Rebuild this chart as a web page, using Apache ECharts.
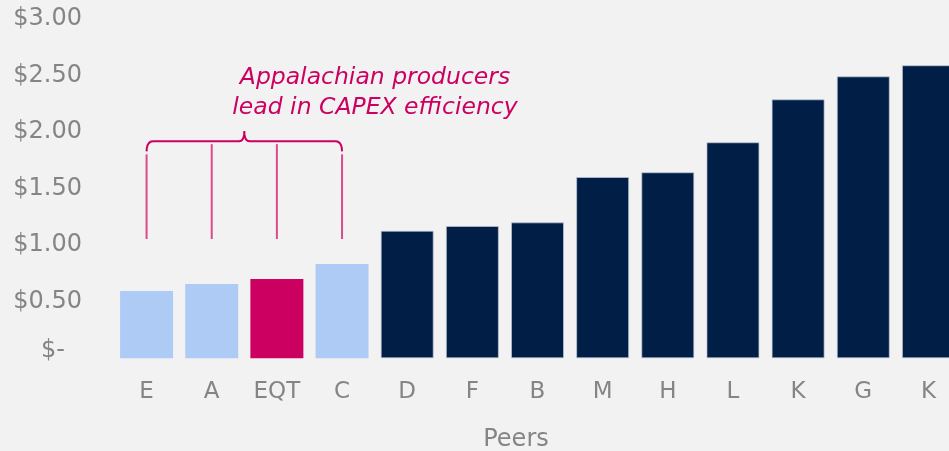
<!DOCTYPE html>
<html>
<head>
<meta charset="utf-8">
<script src="https://cdn.jsdelivr.net/npm/echarts@6/dist/echarts.min.js"></script>
<style>
  html, body { margin: 0; padding: 0; background: #f2f2f2; }
  #chart { width: 949px; height: 451px; }
</style>
</head>
<body>
<div id="chart"></div>
<script>
// capex per unit, by peer
const peers = ['E', 'A', 'EQT', 'C', 'D', 'F', 'B', 'M', 'H', 'L', 'K', 'G', 'K']
const capex = [0.595, 0.657, 0.701, 0.834, 1.128, 1.17, 1.202, 1.603, 1.645, 1.91, 2.29, 2.493, 2.591]
const yTicks = [0, 0.5, 1, 1.5, 2, 2.5, 3]
const appalachianIdx = [0, 1, 2, 3]
const focusIdx = 2
const note = ['Appalachian producers', 'lead in CAPEX efficiency']

const NAVY = '#011e46', LIGHT = '#aecbf6', PINK = '#cc0060'
const GREY = '#858585'
const font = 'DejaVu Sans'

const chart = echarts.init(document.getElementById('chart'))

const barColor = i => i === focusIdx ? PINK : (appalachianIdx.includes(i) ? LIGHT : NAVY)

chart.setOption({
  backgroundColor: '#f2f2f2',
  animation: false,
  grid: { left: 114, top: 19, width: 847, height: 339.3, outerBoundsMode: 'none' },
  xAxis: {
    type: 'category',
    data: peers,
    axisLine: { show: false },
    axisTick: { show: false },
    axisLabel: { color: GREY, fontFamily: font, fontSize: 23, margin: 22 }
  },
  yAxis: {
    type: 'value',
    min: yTicks[0],
    max: yTicks[yTicks.length - 1],
    interval: 0.5,
    splitLine: { show: false },
    axisLine: { show: false },
    axisTick: { show: false },
    axisLabel: {
      margin: 32,
      color: GREY,
      fontFamily: font,
      fontSize: 24,
      formatter: v => v === 0 ? '{z|$-}' : '$' + v.toFixed(2),
      rich: { z: { color: GREY, fontFamily: font, fontSize: 24, padding: [0, 17, 16, 0] } }
    }
  },
  series: [{
    type: 'bar',
    barWidth: 53,
    data: capex.map((v, i) => ({
      value: v,
      itemStyle: {
        color: barColor(i),
        borderColor: barColor(i) === NAVY ? 'rgba(190,200,215,0.7)' : barColor(i),
        borderWidth: barColor(i) === NAVY ? 1 : 0
      }
    }))
  }]
})

// bracket + callout, placed through the axes
const px = (i, v) => chart.convertToPixel({ gridIndex: 0 }, [i, v])
const xs = appalachianIdx.map(i => px(i, 0)[0])
const yBar = px(0, 1.92)[1]
const yNotch = px(0, 2.01)[1]
const yEnd = px(0, 1.83)[1]
const yLow = px(0, 1.055)[1]
const x0 = xs[0], x3 = xs[xs.length - 1], xm = (x0 + x3) / 2

// quadratic curve sampled into points
const quad = (a, c, b) => {
  const out = []
  for (let t = 0; t <= 1.0001; t += 0.2) {
    const u = 1 - t
    out.push([u * u * a[0] + 2 * u * t * c[0] + t * t * b[0], u * u * a[1] + 2 * u * t * c[1] + t * t * b[1]])
  }
  return out
}
const bracketPts = [].concat(
  quad([x0, yEnd], [x0, yBar], [x0 + 7, yBar]),
  quad([xm - 5, yBar], [xm, yBar], [xm, yNotch]),
  quad([xm, yNotch], [xm, yBar], [xm + 5, yBar]),
  quad([x3 - 7, yBar], [x3, yBar], [x3, yEnd])
)

const graphics = [{
  type: 'polyline',
  shape: { points: bracketPts },
  style: { fill: null, stroke: PINK, lineWidth: 2 }
}]
xs.forEach((x, k) => {
  const top = (k === 0 || k === xs.length - 1) ? yEnd + 3 : yBar + 3
  graphics.push({
    type: 'line',
    shape: { x1: x, y1: top, x2: x, y2: yLow },
    style: { stroke: '#db4a8b', lineWidth: 2 }
  })
})
note.forEach((t, k) => {
  graphics.push({
    type: 'text',
    x: 375, y: 78 + k * 29.5,
    style: {
      text: t, fill: PINK, font: `italic 23.5px "${font}"`,
      textAlign: 'center', textVerticalAlign: 'middle'
    }
  })
})
graphics.push({
  type: 'text',
  x: 516, y: 440,
  style: { text: 'Peers', fill: GREY, font: `24px "${font}"`, textAlign: 'center', textVerticalAlign: 'middle' }
})

chart.setOption({ graphic: graphics })
</script>
</body>
</html>
